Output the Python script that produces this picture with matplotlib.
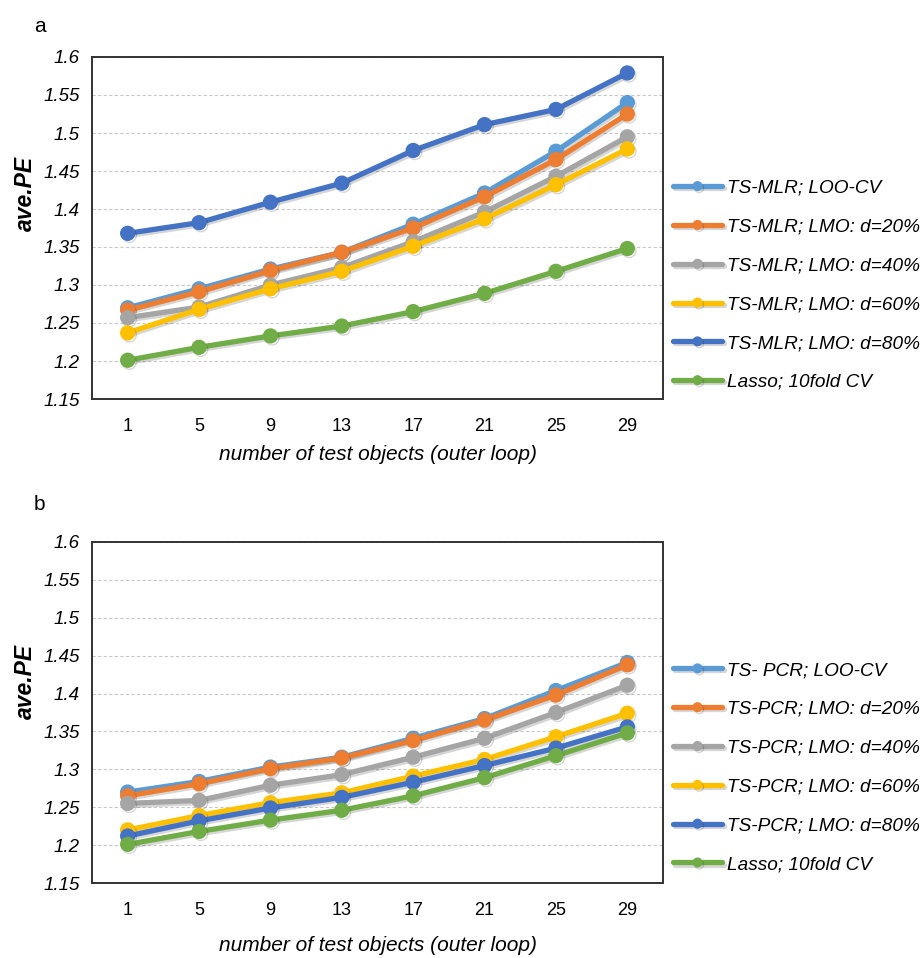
import matplotlib
matplotlib.use("Agg")
import matplotlib.pyplot as plt
import matplotlib.patheffects as pe

plt.rcParams['font.family'] = ['Liberation Sans', 'DejaVu Sans']

x_labels = ["1", "5", "9", "13", "17", "21", "25", "29"]
colors = ["#5B9BD5", "#ED7D31", "#A5A5A5", "#FFC000", "#4472C4", "#70AD47"]

labels_a = ["TS-MLR; LOO-CV", "TS-MLR; LMO: d=20%", "TS-MLR; LMO: d=40%",
            "TS-MLR; LMO: d=60%", "TS-MLR; LMO: d=80%", "Lasso; 10fold CV"]
labels_b = ["TS- PCR; LOO-CV", "TS-PCR; LMO: d=20%", "TS-PCR; LMO: d=40%",
            "TS-PCR; LMO: d=60%", "TS-PCR; LMO: d=80%", "Lasso; 10fold CV"]

a_loo = [1.270, 1.295, 1.321, 1.343, 1.380, 1.421, 1.476, 1.540]
a_d20 = [1.267, 1.291, 1.319, 1.343, 1.375, 1.416, 1.465, 1.525]
a_d40 = [1.257, 1.271, 1.300, 1.323, 1.357, 1.396, 1.443, 1.495]
a_d60 = [1.237, 1.268, 1.295, 1.318, 1.351, 1.387, 1.432, 1.479]
a_d80 = [1.368, 1.382, 1.409, 1.434, 1.477, 1.511, 1.531, 1.579]
lasso = [1.201, 1.218, 1.233, 1.246, 1.265, 1.289, 1.318, 1.348]

b_loo = [1.270, 1.284, 1.303, 1.316, 1.341, 1.367, 1.404, 1.441]
b_d20 = [1.265, 1.281, 1.301, 1.315, 1.338, 1.365, 1.398, 1.438]
b_d40 = [1.255, 1.259, 1.279, 1.293, 1.316, 1.341, 1.375, 1.411]
b_d60 = [1.220, 1.239, 1.256, 1.269, 1.291, 1.313, 1.343, 1.374]
b_d80 = [1.212, 1.232, 1.249, 1.263, 1.283, 1.305, 1.328, 1.356]

y_ticks = [1.15, 1.2, 1.25, 1.3, 1.35, 1.4, 1.45, 1.5, 1.55, 1.6]
y_ticklabels = ["1.15", "1.2", "1.25", "1.3", "1.35", "1.4", "1.45", "1.5", "1.55", "1.6"]

W, H = 921, 958
fig = plt.figure(figsize=(W / 100, H / 100), dpi=100)

def make_ax(top_px, bot_px):
    left, right = 92, 663
    return fig.add_axes([left / W, 1 - bot_px / H, (right - left) / W, (bot_px - top_px) / H])

def draw(ax, series, labels, xlabelpad, ylabel_y, leg_y):
    xs = list(range(len(x_labels)))
    for vals, c, lab in zip(series, colors, labels):
        ax.plot(xs, vals, color=c, lw=3.8, marker='o', ms=10, label=lab,
                solid_capstyle='round',
                path_effects=[pe.SimpleLineShadow(offset=(1.2, -1.5), alpha=0.16, shadow_color='black'),
                              pe.Normal()])
    ax.set_xlim(-0.5, len(x_labels) - 0.5)
    ax.set_ylim(1.15, 1.6)
    ax.set_xticks(xs)
    ax.set_xticklabels(x_labels, fontsize=13)
    ax.set_yticks(y_ticks)
    ax.set_yticklabels(y_ticklabels, fontsize=13.5, style='italic')
    ax.tick_params(axis='y', length=0, pad=9)
    ax.tick_params(axis='x', length=0, pad=14)
    ax.yaxis.grid(True, color='#c8c8c8', linestyle=(0, (3, 2)), lw=0.8)
    ax.set_axisbelow(True)
    for s in ax.spines.values():
        s.set_color('#333333')
        s.set_linewidth(1.4)
    ax.set_ylabel("ave.PE", fontsize=16.5, style='italic', weight='bold')
    ax.yaxis.set_label_coords(-55 / 571, ylabel_y)
    ax.set_xlabel("number of test objects (outer loop)", fontsize=15, style='italic',
                  labelpad=xlabelpad)
    leg = ax.legend(loc='center left', bbox_to_anchor=(1.0175, leg_y), frameon=False,
                    fontsize=13.7, handlelength=2.58, labelspacing=1.13, handletextpad=0.26,
                    borderaxespad=0, borderpad=0, markerscale=0.62)
    for t in leg.get_texts():
        t.set_style('italic')

ax1 = make_ax(57, 399)
draw(ax1, [a_loo, a_d20, a_d40, a_d60, a_d80, lasso], labels_a, 7, 0.60, 0.333)
ax2 = make_ax(542, 883)
draw(ax2, [b_loo, b_d20, b_d40, b_d60, b_d80, lasso], labels_b, 12, 0.59, 0.339)

fig.text(34 / W, 1 - 26 / H, "a", fontsize=15, va='center')
fig.text(34 / W, 1 - 505 / H, "b", fontsize=15, va='center')

fig.savefig("out.png", dpi=100)
